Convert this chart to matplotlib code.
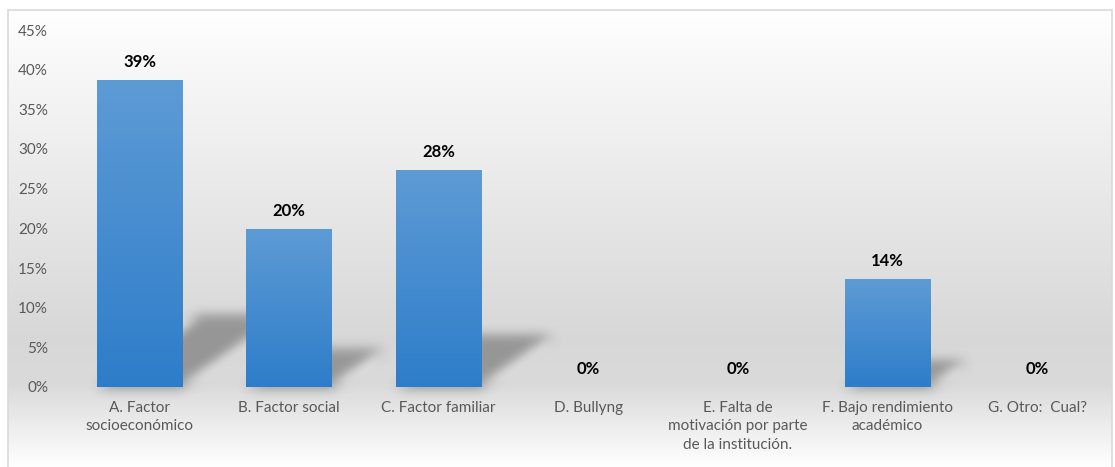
import matplotlib
matplotlib.use("Agg")
import matplotlib.pyplot as plt
import numpy as np
from matplotlib.patches import Polygon, Rectangle
from matplotlib.ticker import PercentFormatter

# datos
categorias = ["A. Factor\nsocioeconómico", "B. Factor social", "C. Factor familiar",
              "D. Bullyng", "E. Falta de\nmotivación por parte\nde la institución.",
              "F. Bajo rendimiento\nacadémico", "G. Otro:  Cual?"]
valores = [0.387, 0.199, 0.274, 0.0, 0.0, 0.136, 0.0]
etiquetas = ["39%", "20%", "28%", "0%", "0%", "14%", "0%"]
ticks_y = [0, 0.05, 0.10, 0.15, 0.20, 0.25, 0.30, 0.35, 0.40, 0.45]

plt.rcParams['font.family'] = ['Lato', 'DejaVu Sans']

W, H = 1115, 467
fig = plt.figure(figsize=(W / 100, H / 100), dpi=100)

# fondo degradado (blanco -> gris -> blanco)
bg = fig.add_axes([0, 0, 1, 1], zorder=-5)
bg.set_axis_off()
yy = np.linspace(0, 1, 400)
stops_y = [0.0, 0.15, 0.72, 0.82, 1.0]
stops_v = [1.0, 0.965, 0.845, 0.855, 1.0]
col = np.interp(yy, stops_y, stops_v)
grad = np.repeat(col[:, None], 2, axis=1)
top_f = 1 - 10 / H
bg.imshow(np.dstack([grad, grad, grad]), extent=[8 / W, 1112 / W, 0, top_f],
          origin="upper", aspect="auto", interpolation="bilinear")
bg.set_xlim(0, 1)
bg.set_ylim(0, 1)
bg.add_patch(Rectangle((8 / W, -0.01), 1104 / W, top_f + 0.01, fill=False,
                       edgecolor="#d9d9d9", linewidth=1.2))

ax = fig.add_axes([64.7 / W, (H - 387) / H, (1112 - 64.7) / W, (387 - 30) / H])
ax.set_facecolor("none")
x = np.arange(len(categorias))
ancho = 0.57


class Blur:
    def __init__(self, sigma):
        self.sigma = sigma

    def __call__(self, im, dpi):
        pad = int(self.sigma * 3)
        src = np.pad(im, [(pad, pad), (pad, pad), (0, 0)], "constant")
        k = np.exp(-0.5 * (np.arange(-pad, pad + 1) / self.sigma) ** 2)
        k /= k.sum()
        out = np.zeros_like(src)
        for i, w in enumerate(k):
            out += w * np.roll(src, i - pad, axis=0)
        out2 = np.zeros_like(out)
        for i, w in enumerate(k):
            out2 += w * np.roll(out, i - pad, axis=1)
        return out2, -pad, -pad


# sombras en perspectiva
for xi, v in zip(x, valores):
    if v <= 0:
        continue
    dx = 1.75 * v
    dy = 0.23 * v
    sh = Polygon([(xi - ancho / 2, 0), (xi + ancho / 2, 0),
                  (xi + ancho / 2 + dx, dy), (xi - ancho / 2 + dx, dy)],
                 closed=True, facecolor="#555555", edgecolor="none", alpha=0.5,
                 zorder=1)
    sh.set_agg_filter(Blur(6))
    ax.add_patch(sh)

barras = ax.bar(x, valores, width=ancho, color="none", zorder=2)
azul = np.linspace(0, 1, 100)[:, None]
c_top = np.array([0.365, 0.608, 0.835])
c_bot = np.array([0.180, 0.490, 0.790])
img = c_top[None, None, :] * (1 - azul[..., None]) + c_bot[None, None, :] * azul[..., None]
img = np.repeat(img, 2, axis=1)
for b in barras:
    if b.get_height() <= 0:
        continue
    im = ax.imshow(img, extent=[b.get_x(), b.get_x() + b.get_width(), 0, b.get_height()],
                   origin="upper", aspect="auto", zorder=2, interpolation="bilinear")
    im.set_clip_path(b)

for xi, v, t in zip(x, valores, etiquetas):
    ax.annotate(t, (xi, v), xytext=(0, 7), textcoords="offset points",
                ha="center", va="bottom", fontsize=12, fontweight="bold", color="black")

ax.set_xlim(-0.5, len(categorias) - 0.5)
ax.set_ylim(0, 0.45)
ax.set_yticks(ticks_y)
ax.yaxis.set_major_formatter(PercentFormatter(1.0, decimals=0))
ax.set_xticks(x)
ax.set_xticklabels(categorias, linespacing=1.4)
ax.tick_params(axis="both", length=0, colors="#595959", labelsize=11)
ax.tick_params(axis="y", pad=12)
ax.tick_params(axis="x", pad=10)
for s in ax.spines.values():
    s.set_visible(False)

fig.savefig("out.png", dpi=100)
